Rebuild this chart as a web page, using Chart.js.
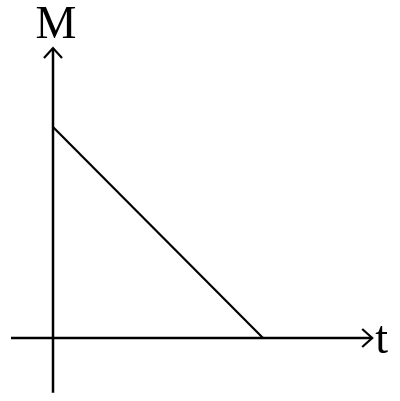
<!DOCTYPE html>
<html><head><meta charset="utf-8">
<script src="https://cdn.jsdelivr.net/npm/chart.js@4/dist/chart.umd.min.js"></script>
<style>html,body{margin:0;padding:0;background:#fff;}#wrap{width:400px;height:401px;}</style>
</head><body><div id="wrap"><canvas id="c"></canvas></div>
<script>
// data
const tValues = [0, 1];
const mValues = [1, 0];
const axisLabels = { x: 't', y: 'M' };
const tAxisExtent = [-0.2, 1.52];
const mAxisExtent = [-0.26, 1.374];

const axesPlugin = {
  id: 'axes',
  afterDatasetsDraw(chart) {
    const {ctx, scales: {x, y}} = chart;
    const x0 = x.getPixelForValue(0), y0 = y.getPixelForValue(0);
    const xa = x.getPixelForValue(tAxisExtent[0]), xb = x.getPixelForValue(tAxisExtent[1]);
    const ya = y.getPixelForValue(mAxisExtent[0]), yb = y.getPixelForValue(mAxisExtent[1]);
    ctx.save();
    ctx.strokeStyle = '#000';
    ctx.lineWidth = 2.5;
    ctx.lineCap = 'butt';
    ctx.beginPath();
    ctx.moveTo(xa, y0); ctx.lineTo(xb, y0);
    ctx.moveTo(x0, ya); ctx.lineTo(x0, yb);
    ctx.stroke();
    ctx.lineWidth = 2.2;
    ctx.lineJoin = 'miter';
    ctx.beginPath();
    ctx.moveTo(xb - 10, y0 - 9); ctx.lineTo(xb, y0); ctx.lineTo(xb - 10, y0 + 9);
    ctx.moveTo(x0 - 9, yb + 10); ctx.lineTo(x0, yb); ctx.lineTo(x0 + 9, yb + 10);
    ctx.stroke();
    ctx.fillStyle = '#000';
    ctx.font = '46px "Liberation Serif", "Times New Roman", serif';
    ctx.textAlign = 'center';
    ctx.textBaseline = 'alphabetic';
    ctx.fillText(axisLabels.y, x0 + 3, yb - 10);
    ctx.textAlign = 'left';
    ctx.fillText(axisLabels.x, xb + 3, y0 + 15);
    ctx.restore();
  }
};

new Chart(document.getElementById('c'), {
  type: 'line',
  data: {
    datasets: [{
      data: tValues.map((t, i) => ({x: t, y: mValues[i]})),
      borderColor: '#000',
      borderWidth: 2.2,
      pointRadius: 0,
      fill: false,
      tension: 0
    }]
  },
  options: {
    responsive: true,
    maintainAspectRatio: false,
    animation: false,
    layout: { padding: 0 },
    plugins: { legend: { display: false }, tooltip: { enabled: false } },
    scales: {
      x: { type: 'linear', min: -0.2524, max: 1.6524, display: false },
      y: { type: 'linear', min: -0.2986, max: 1.6019, display: false }
    }
  },
  plugins: [axesPlugin]
});
</script>
</body></html>
